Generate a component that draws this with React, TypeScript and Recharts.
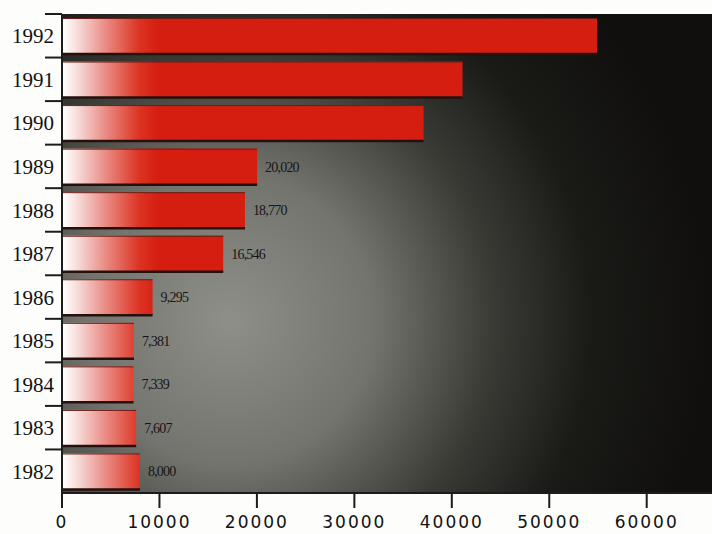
import { BarChart, Bar, XAxis, YAxis, CartesianGrid, LabelList } from 'recharts'

const YEARS = ['1992', '1991', '1990', '1989', '1988', '1987', '1986', '1985', '1984', '1983', '1982']
const VALUES = [54900, 41100, 37100, 20020, 18770, 16546, 9295, 7381, 7339, 7607, 8000]
// the three latest bars carry no value label in the original
const LABELED = [false, false, false, true, true, true, true, true, true, true, true]
const X_TICKS = [0, 10000, 20000, 30000, 40000, 50000, 60000]

const data = YEARS.map((year, i) => ({
  year,
  value: VALUES[i],
  label: LABELED[i] ? VALUES[i].toLocaleString('en-US') : '',
}))

const W = 712
const H = 534
const TOP = 14
const AXIS_H = 41
const BAND = (H - TOP - AXIS_H) / YEARS.length

const YearTick = (props: any) => {
  const { x, y, payload } = props
  return (
    <g>
      <line x1={x - 17} x2={x} y1={y - BAND / 2} y2={y - BAND / 2} stroke="#1c1c1c" strokeWidth={2} />
      <text
        x={x - 8}
        y={y}
        dy="0.36em"
        textAnchor="end"
        fontFamily="'Liberation Serif', serif"
        fontSize={21}
        fill="#111"
      >
        {payload.value}
      </text>
    </g>
  )
}

const BarShape = (props: any) => {
  const { x, y, width, height } = props
  if (!width) return null
  return (
    <g>
      <rect x={x} y={y} width={width} height={height} fill="url(#barFill)" />
      <line x1={x} x2={x + width} y1={y + 0.5} y2={y + 0.5} stroke="#6a1c16" strokeWidth={1} />
      <line x1={x} x2={x + width} y1={y + height} y2={y + height} stroke="#24100c" strokeWidth={2.5} />
    </g>
  )
}

export default function App() {
  return (
    <div style={{ position: 'absolute', left: 0, top: 0, width: W, height: H, background: '#fdfdfb' }}>
      <svg width={0} height={0} style={{ position: 'absolute' }}>
        <defs>
          <radialGradient id="plotBg" gradientUnits="userSpaceOnUse" cx={230} cy={320} r={480}>
            <stop offset="0%" stopColor="#8f8f8a" />
            <stop offset="30%" stopColor="#74746f" />
            <stop offset="55%" stopColor="#3a3a35" />
            <stop offset="75%" stopColor="#1a1a17" />
            <stop offset="100%" stopColor="#100f0d" />
          </radialGradient>
          <linearGradient id="barFill" gradientUnits="userSpaceOnUse" x1={63} y1={0} x2={158} y2={0}>
            <stop offset="0%" stopColor="#ffffff" />
            <stop offset="12%" stopColor="#f8e4e2" />
            <stop offset="45%" stopColor="#ea8a84" />
            <stop offset="80%" stopColor="#dc3424" />
            <stop offset="100%" stopColor="#d51e10" />
          </linearGradient>
        </defs>
      </svg>
      <BarChart
        width={W}
        height={H}
        data={data}
        layout="vertical"
        margin={{ top: TOP, right: 0, bottom: 0, left: 0 }}
        barSize={36}
      >
        <CartesianGrid fill="url(#plotBg)" stroke="none" />
        <XAxis
          type="number"
          domain={[0, 66700]}
          ticks={X_TICKS}
          height={AXIS_H}
          axisLine={{ stroke: '#1c1c1c', strokeWidth: 2 }}
          tickLine={{ stroke: '#1c1c1c', strokeWidth: 2 }}
          tickSize={15}
          tickMargin={8}
          tick={{ fontFamily: "'DejaVu Sans', sans-serif", fontSize: 17, fill: '#111', letterSpacing: 2 }}
          interval={0}
        />
        <XAxis
          xAxisId="top"
          orientation="top"
          type="number"
          domain={[0, 66700]}
          height={0}
          tick={false}
          tickLine={false}
          axisLine={{ stroke: '#1c1c1c', strokeWidth: 2 }}
        />
        <YAxis
          type="category"
          dataKey="year"
          width={62}
          tickSize={0}
          tickMargin={0}
          tickLine={false}
          axisLine={{ stroke: '#1c1c1c', strokeWidth: 2 }}
          tick={<YearTick />}
          interval={0}
        />
        <Bar dataKey="value" shape={<BarShape />} isAnimationActive={false}>
          <LabelList
            dataKey="label"
            position="right"
            offset={8}
            style={{ fontFamily: "'Liberation Serif', serif", fontSize: 14, fill: '#161616', letterSpacing: -0.8 }}
          />
        </Bar>
      </BarChart>
    </div>
  )
}
